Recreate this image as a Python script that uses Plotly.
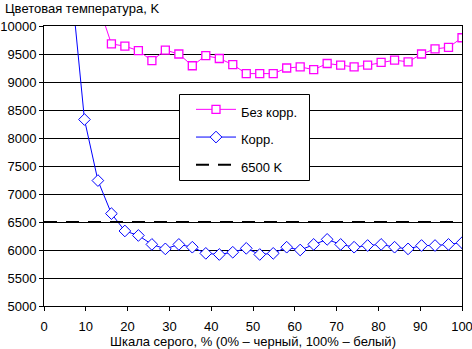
import plotly.graph_objects as go

# Gray level steps (%), 32 steps
gray = [0, 3.23, 6.45, 9.68, 12.9, 16.13, 19.35, 22.58, 25.81, 29.03, 32.26,
        35.48, 38.71, 41.94, 45.16, 48.39, 51.61, 54.84, 58.06, 61.29, 64.52,
        67.74, 70.97, 74.19, 77.42, 80.65, 83.87, 87.1, 90.32, 93.55, 96.77, 100]

# Colour temperature without correction (K); first points are off-scale
no_corr = [16000, 14000, 12500, 11300, 10400, 9680, 9640, 9560, 9380, 9570,
           9500, 9290, 9470, 9420, 9310, 9150, 9150, 9150, 9250, 9270,
           9220, 9330, 9300, 9270, 9300, 9350, 9390, 9360, 9500, 9590,
           9620, 9790]

# Colour temperature with correction (K); first points are off-scale
corr = [15000, 13000, 10800, 8330, 7240, 6650, 6340, 6260, 6100, 6020,
        6100, 6050, 5940, 5920, 5960, 6030, 5920, 5940, 6050, 6000,
        6100, 6190, 6100, 6050, 6080, 6100, 6050, 6020, 6080, 6080,
        6100, 6130]

ref_x = [0, 100]
ref_y = [6500, 6500]

names = ["Без корр.", "Корр.", "6500 K"]
FONT = "Liberation Sans, Arial, sans-serif"

W, H = 472, 349
ML, MR, MT, MB = 44, 10, 26, 43
PW, PH = W - ML - MR, H - MT - MB


def px_x(p):
    return (p - ML) / PW


def px_y(p):
    return (H - MB - p) / PH


def lg(t):
    return "<span style='font-size:13px'>" + t + "</span>"


fig = go.Figure()
fig.add_trace(go.Scatter(
    x=gray, y=no_corr, name=lg(names[0]), mode="lines+markers",
    line=dict(color="#FF00FF", width=1),
    marker=dict(symbol="square", size=8, color="white",
                line=dict(color="#FF00FF", width=1.3)),
))
fig.add_trace(go.Scatter(
    x=gray, y=corr, name=lg(names[1]), mode="lines+markers",
    line=dict(color="#0000FF", width=1),
    marker=dict(symbol="diamond", size=9, color="white",
                line=dict(color="#0000FF", width=1)),
))
fig.add_trace(go.Scatter(
    x=ref_x, y=ref_y, name=lg(names[2]), mode="lines",
    line=dict(color="black", width=2, dash="13px,9px"),
))

fig.update_layout(
    width=W, height=H,
    margin=dict(l=ML, r=MR, t=MT, b=MB),
    paper_bgcolor="white", plot_bgcolor="white",
    font=dict(family=FONT, size=13, color="black"),
    showlegend=True,
    legend=dict(
        x=px_x(191), y=px_y(90.5), xanchor="left", yanchor="top",
        bgcolor="rgba(0,0,0,0)", borderwidth=0,
        font=dict(family=FONT, size=19, color="black"),
        itemwidth=40, traceorder="normal",
    ),
    xaxis=dict(
        range=[0, 100], dtick=10, tick0=0,
        showgrid=False, zeroline=False, automargin=False,
        ticklabeloverflow="allow",
        showline=True, linecolor="black", linewidth=1, mirror=True,
        ticks="outside", ticklen=4, tickcolor="black",
        ticklabelstandoff=4,
        tickfont=dict(family=FONT, size=13),
        title=dict(text="Шкала серого, % (0% – черный, 100% – белый)",
                   font=dict(family=FONT, size=13), standoff=5),
    ),
    yaxis=dict(
        range=[5000, 10000], dtick=500, tick0=5000, tickformat="d",
        showgrid=True, gridcolor="black", gridwidth=1,
        zeroline=False, automargin=False, ticklabeloverflow="allow",
        showline=True, linecolor="black", linewidth=1, mirror=True,
        ticks="outside", ticklen=4, tickcolor="black",
        tickfont=dict(family=FONT, size=13),
    ),
    shapes=[dict(
        type="rect", xref="paper", yref="paper", layer="above",
        x0=px_x(179.5), x1=px_x(309.5), y0=px_y(180.5), y1=px_y(94.5),
        fillcolor="white", line=dict(color="black", width=1),
    )],
    annotations=[dict(
        text="Цветовая температура, K", xref="paper", yref="paper",
        x=px_x(3), y=px_y(8), xanchor="left", yanchor="middle",
        showarrow=False, font=dict(family=FONT, size=13),
    )],
)

fig.write_html("out.html")
